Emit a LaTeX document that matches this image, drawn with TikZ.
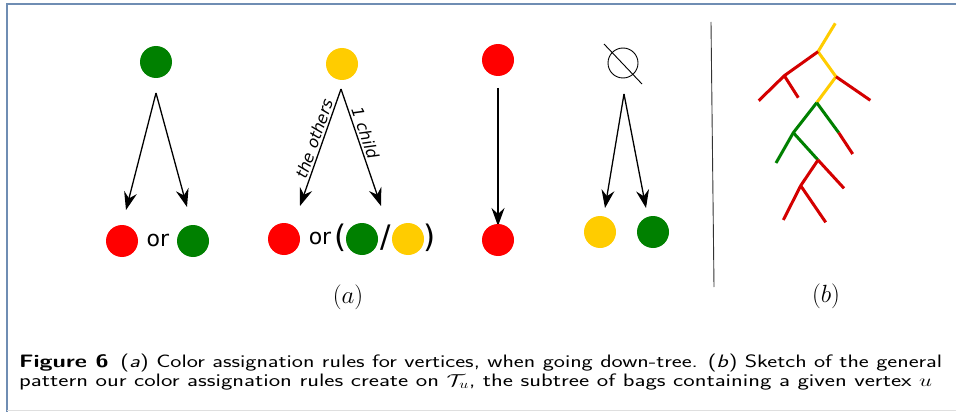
\documentclass[tikz,border=0pt]{standalone}
\usepackage{fontspec}
\usepackage{graphicx}
\newfontfamily\dejavu{DejaVu Sans}
\usetikzlibrary{arrows.meta}
\definecolor{cred}{HTML}{FF0000}
\definecolor{cgreen}{HTML}{008000}
\definecolor{cyellow}{HTML}{FFCC00}
\definecolor{tred}{HTML}{D40000}
\definecolor{tgreen}{HTML}{008000}
\definecolor{tyellow}{HTML}{FFCC00}
\definecolor{framec}{HTML}{6F8DB3}
\begin{document}
\begin{tikzpicture}[x=1pt,y=-1pt,
  dot/.style={circle, minimum size=32pt, inner sep=0pt},
  arr/.style={-{Stealth[length=18pt,width=13pt,inset=6pt]}, line width=1.3pt},
  ortext/.style={font=\dejavu\fontsize{22}{22}\selectfont, inner sep=0pt},
  paren/.style={font=\dejavu\fontsize{31}{31}\selectfont, inner sep=0pt},
  lab/.style={font=\dejavu\itshape\fontsize{16}{16}\selectfont, inner sep=2pt, sloped},
  sub/.style={font=\fontsize{26}{26}\selectfont, inner sep=0pt},
  br/.style={line width=3pt},
  captext/.style={font=\sffamily\fontsize{18}{20}\selectfont, anchor=base west, inner sep=0pt}]
\useasboundingbox (0,0) rectangle (956,412);
\fill[white] (0,0) rectangle (956,412);
\draw[framec, line width=1.6pt] (7,412) -- (7,4) -- (956,4);
\draw[gray!25, line width=0.8pt] (7,410.5) -- (956,410.5);

% panel 1
\node[dot, fill=cgreen] (g1) at (156,62) {};
\coordinate (s1) at (156,93);
\coordinate (e1a) at (126,210);
\coordinate (e1b) at (187,207);
\draw[arr] (s1) -- (e1a);
\draw[arr] (s1) -- (e1b);
\node[dot, fill=cred] (r1) at (122,241) {};
\node[ortext] (or1) at (158,240) {or};
\node[dot, fill=cgreen] (g1b) at (193,241) {};

% panel 2
\node[dot, fill=cyellow] (y2) at (342,64) {};
\coordinate (s2) at (341,89);
\coordinate (e2a) at (300,206);
\coordinate (e2b) at (381,206);
\draw[arr] (s2) -- node[lab, above, pos=0.45] {the others} (e2a);
\draw[arr] (s2) -- node[lab, above, pos=0.4] {1 child} (e2b);
\node[dot, fill=cred] (r2) at (284,239) {};
\node[ortext] (or2) at (320,238) {or};
\node[paren] (lp) at (341,238) {(};
\node[dot, fill=cgreen] (g2) at (362,239) {};
\node[paren] (sl) at (386,238) {/};
\node[dot, fill=cyellow] (y2b) at (408,239) {};
\node[paren] (rp) at (430,238) {)};

% panel 3
\node[dot, fill=cred] (r3) at (498,60) {};
\coordinate (s3) at (498,88);
\coordinate (e3) at (498,226);
\draw[arr] (s3) -- (e3);
\node[dot, fill=cred] (r3b) at (498,240) {};

% panel 4
\node[circle, draw, line width=0.9pt, minimum size=30pt, inner sep=0pt] (es) at (623,63) {};
\draw[line width=0.9pt] (604,44) -- (642,84);
\coordinate (s4) at (624,94);
\coordinate (e4a) at (605,208);
\coordinate (e4b) at (646,208);
\draw[arr] (s4) -- (e4a);
\draw[arr] (s4) -- (e4b);
\node[dot, fill=cyellow] (y4) at (600,232) {};
\node[dot, fill=cgreen] (g4) at (653,232) {};

\node[sub] (la) at (348,297) {$(a)$};

% separator
\draw[black!80, line width=0.9pt] (711,22) -- (714,287);

% tree (b)
\coordinate (t0) at (835.3,23.3);
\coordinate (t1) at (818,51.7);
\coordinate (t2) at (836,76.7);
\coordinate (t3) at (816.7,102.7);
\coordinate (t4) at (784.3,75.7);
\coordinate (t5) at (758.7,100.7);
\coordinate (t6) at (798.3,97.7);
\coordinate (t7) at (870.3,100.3);
\coordinate (t8) at (793.3,132.7);
\coordinate (t9) at (838.7,132.7);
\coordinate (t10) at (852.7,154);
\coordinate (t11) at (776,163);
\coordinate (t12) at (818,160);
\coordinate (t13) at (844,188.3);
\coordinate (t14) at (800.7,185.7);
\coordinate (t15) at (783.3,220);
\coordinate (t16) at (825.7,222.3);
\draw[br, tyellow] (t0) -- (t1) -- (t2) -- (t3);
\draw[br, tred] (t1) -- (t4) -- (t5);
\draw[br, tred] (t4) -- (t6);
\draw[br, tred] (t2) -- (t7);
\draw[br, tgreen] (t3) -- (t8) -- (t11);
\draw[br, tgreen] (t3) -- (t9);
\draw[br, tgreen] (t8) -- (t12);
\draw[br, tred] (t9) -- (t10);
\draw[br, tred] (t12) -- (t13);
\draw[br, tred] (t12) -- (t14) -- (t15);
\draw[br, tred] (t14) -- (t16);

\node[sub] (lb) at (826,296) {$(b)$};

% caption
\node[captext] (c1) at (19,367) {\resizebox{923pt}{\height}{\textbf{Figure 6}\enspace(\textit{a}) Color assignation rules for vertices, when going down-tree. (\textit{b}) Sketch of the general}};
\node[captext] (c2) at (19,386) {\resizebox{913pt}{\height}{pattern our color assignation rules create on $\mathcal{T}_u$, the subtree of bags containing a given vertex $u$}};
\end{tikzpicture}
\end{document}
